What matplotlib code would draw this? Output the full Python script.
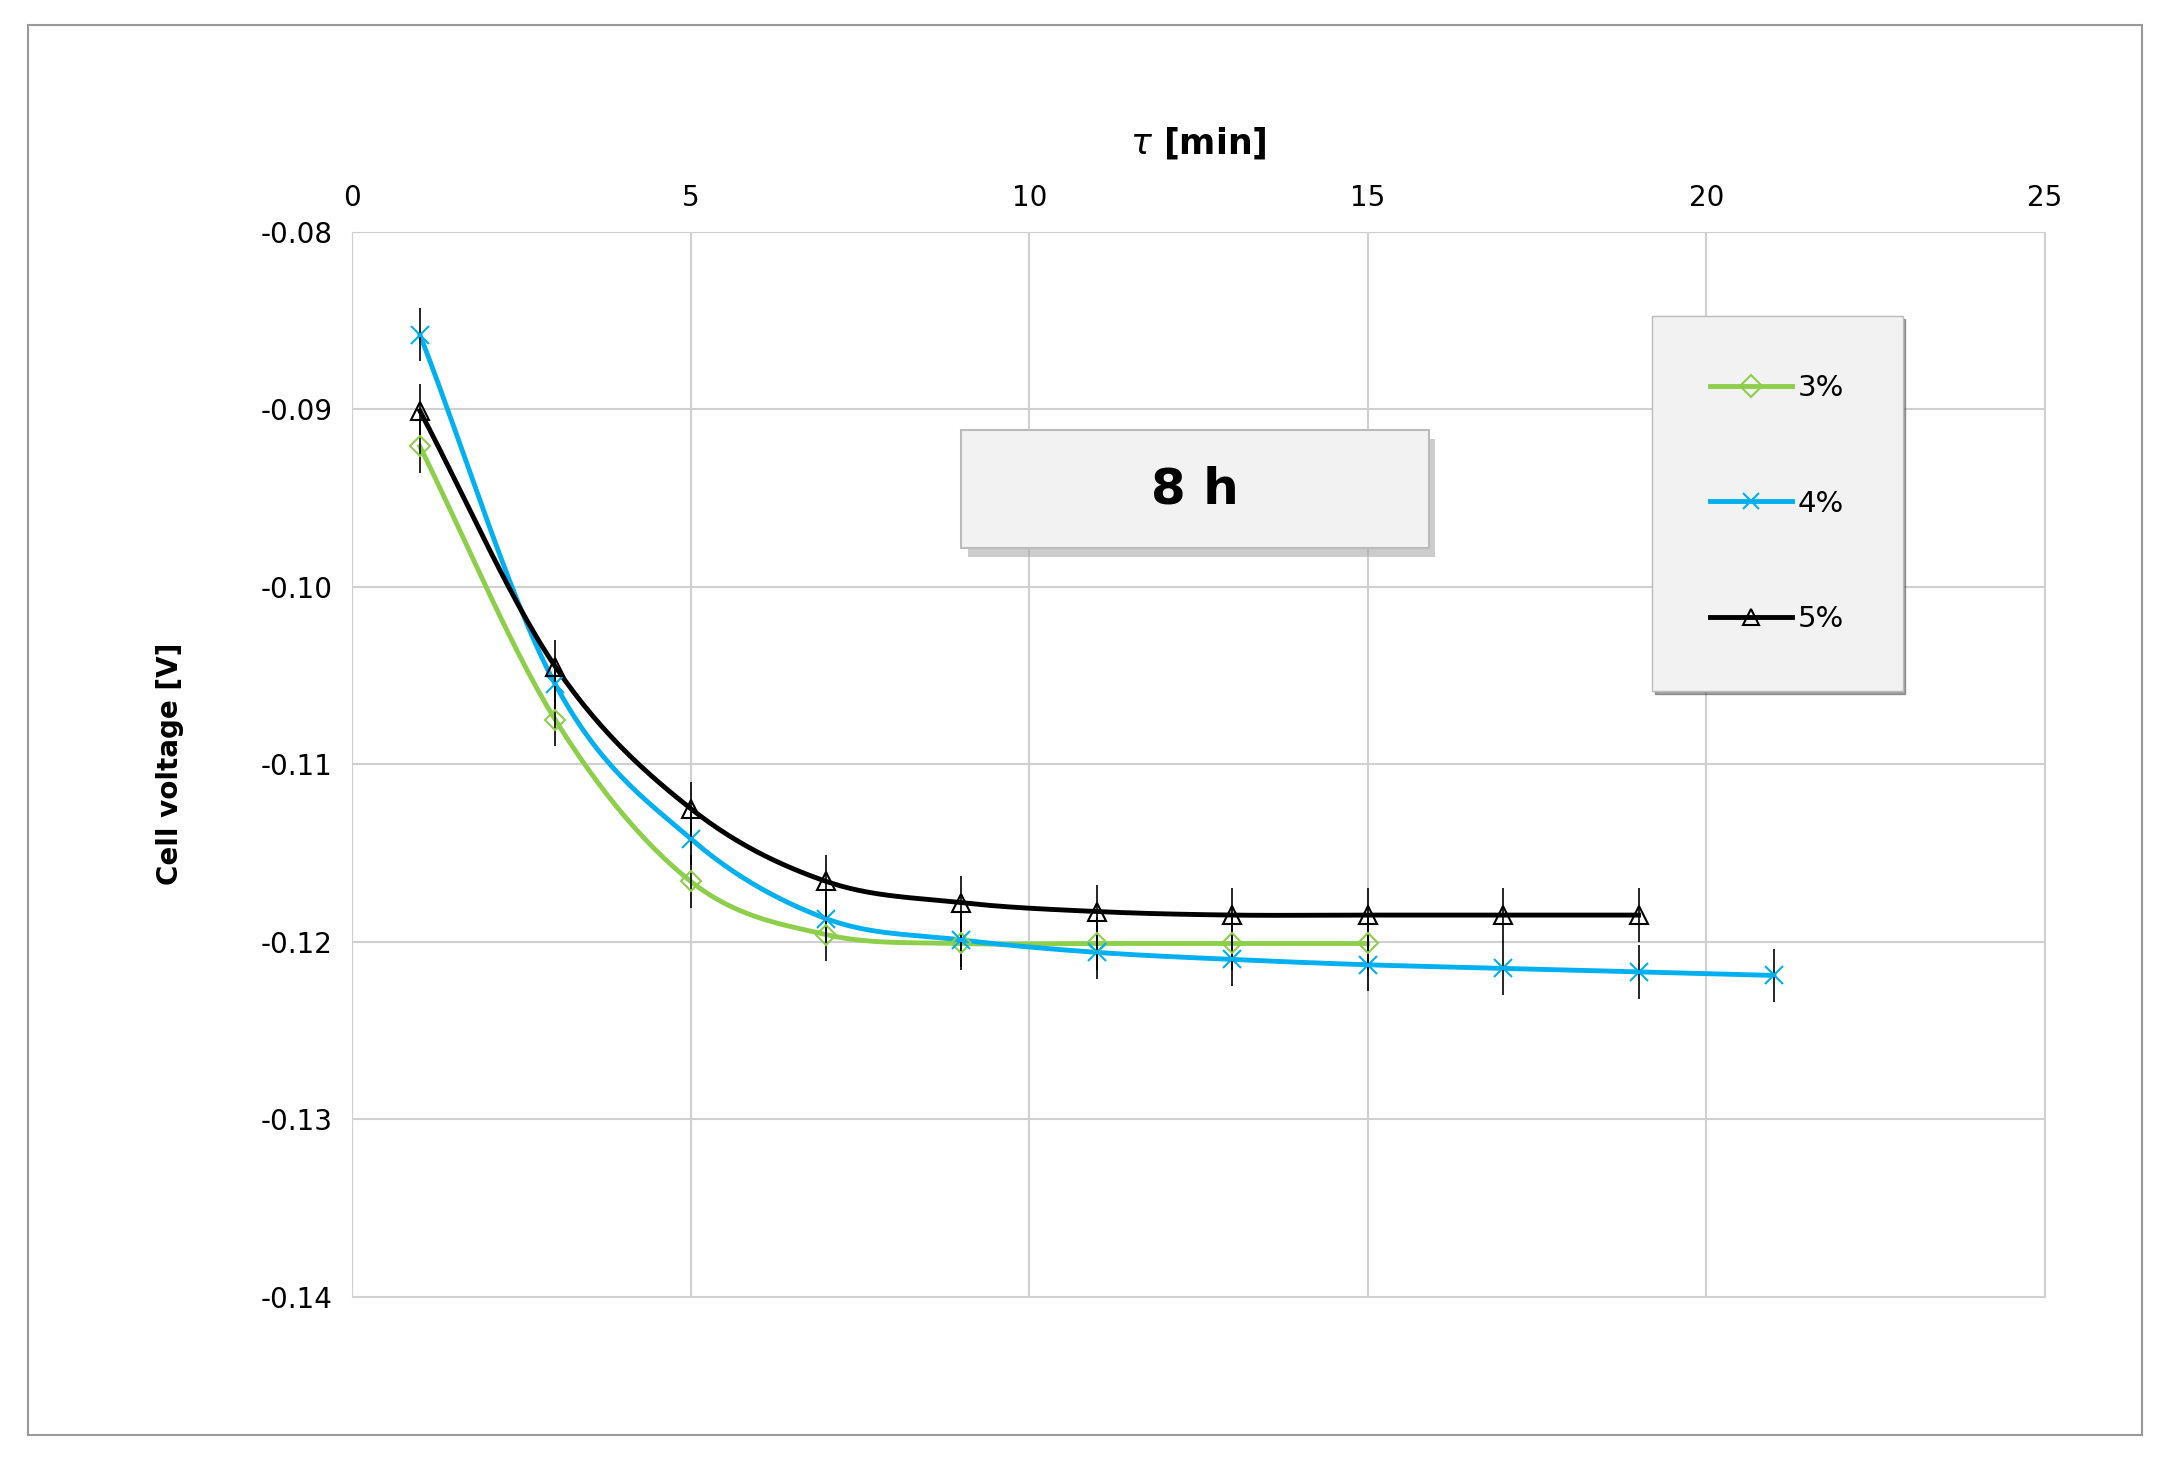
import numpy as np
import matplotlib.pyplot as plt
from matplotlib.patches import Rectangle

x3 = [1, 3, 5, 7, 9, 11, 13, 15]
y3 = [-0.0921, -0.1075, -0.1166, -0.1196, -0.1201, -0.1201, -0.1201, -0.1201]
x4 = [1, 3, 5, 7, 9, 11, 13, 15, 17, 19, 21]
y4 = [-0.0858, -0.1055, -0.1142, -0.1187, -0.1199, -0.1206, -0.1210, -0.1213, -0.1215, -0.1217, -0.1219]
x5 = [1, 3, 5, 7, 9, 11, 13, 15, 17, 19]
y5 = [-0.0901, -0.1045, -0.1125, -0.1166, -0.1178, -0.1183, -0.1185, -0.1185, -0.1185, -0.1185]
err = 0.0015


def smooth(x, y, n=30):
    # cubic Hermite through the points, like Excel's smoothed line
    x = np.asarray(x, float); y = np.asarray(y, float)
    m = np.gradient(y, x)
    xs, ys = [], []
    for i in range(len(x) - 1):
        h = x[i + 1] - x[i]
        t = np.linspace(0, 1, n)
        h00 = 2*t**3 - 3*t**2 + 1; h10 = t**3 - 2*t**2 + t
        h01 = -2*t**3 + 3*t**2; h11 = t**3 - t**2
        xs.append(x[i] + t*h)
        ys.append(h00*y[i] + h10*h*m[i] + h01*y[i+1] + h11*h*m[i+1])
    return np.concatenate(xs), np.concatenate(ys)


fig = plt.figure(figsize=(21.66, 14.57), dpi=100)
fig.patches.append(Rectangle((0.013, 0.015), 0.976, 0.968, transform=fig.transFigure,
                             fill=False, edgecolor='#999999', lw=1.5))
ax = fig.add_axes([0.1626, 0.110, 0.7814, 0.731])

series = [(x3, y3, '#8dcf4a', 'D', '3%'), (x4, y4, '#00b0f0', 'x', '4%'), (x5, y5, 'black', '^', '5%')]
for x, y, c, mk, lab in series:
    sx, sy = smooth(x, y)
    ax.plot(sx, sy, color=c, lw=3.5, zorder=3)
    ax.errorbar(x, y, yerr=err, fmt='none', ecolor='black', elinewidth=1.2, zorder=4)
    ax.plot(x, y, linestyle='none', marker=mk, ms=13 if mk != 'D' else 10, mfc='none', mec=c,
            mew=1.5, zorder=5)
    ax.plot([], [], color=c, lw=3.5, marker=mk, ms=11, mfc='none', mec=c, mew=1.5, label=lab)

ax.set_xlim(0, 25)
ax.set_ylim(-0.14, -0.08)
ax.set_xticks(range(0, 26, 5))
ax.set_yticks(np.arange(-0.14, -0.079, 0.01))
ax.set_yticklabels(['-0.14', '-0.13', '-0.12', '-0.11', '-0.10', '-0.09', '-0.08'])
ax.xaxis.tick_top()
ax.xaxis.set_label_position('top')
ax.tick_params(length=0, labelsize=20, pad=14)
ax.grid(color='#d0d0d0', lw=1.5)
for s in ax.spines.values():
    s.set_color('#d0d0d0')
ax.set_xlabel(r'$\tau$ [min]', fontsize=25, fontweight='bold', labelpad=22)
ax.set_ylabel('Cell voltage [V]', fontsize=20, fontweight='bold', labelpad=55)

# "8 h" label box with shadow
ax.add_patch(Rectangle((9.1, -0.0983), 6.9, 0.0066, fc='#aaaaaa', ec='none', zorder=5, alpha=0.6))
ax.add_patch(Rectangle((9.0, -0.0978), 6.9, 0.0066, fc='#f2f2f2', ec='#bbbbbb', lw=1.5, zorder=6))
ax.text(12.45, -0.0945, '8 h', fontsize=36, fontweight='bold', ha='center', va='center', zorder=7)

leg = ax.legend(loc='upper right', bbox_to_anchor=(0.916, 0.921), fontsize=21, frameon=True,
                fancybox=False, shadow=True, labelspacing=3.0, borderpad=2.0, handlelength=2.8,
                handletextpad=0.2, borderaxespad=0)
leg.get_frame().set_facecolor('#f2f2f2')
leg.get_frame().set_edgecolor('#bbbbbb')

fig.savefig('out.png')
